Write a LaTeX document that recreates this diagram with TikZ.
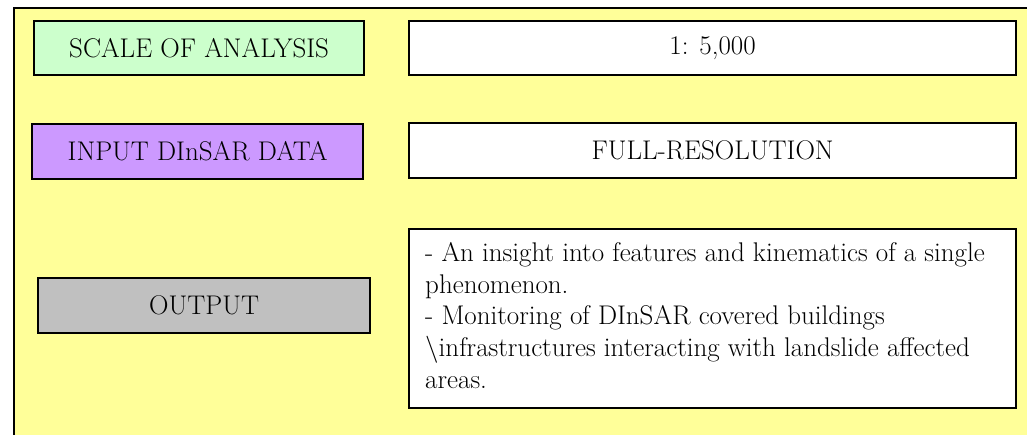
\documentclass[tikz,border=0pt]{standalone}
\usepackage{tikz}
\definecolor{bgyellow}{HTML}{FFFF99}
\definecolor{boxgreen}{HTML}{CCFFCC}
\definecolor{boxpurple}{HTML}{CC99FF}
\definecolor{boxgrey}{HTML}{C0C0C0}
\tikzset{
  card/.style={draw=black, line width=2.2pt, anchor=north west, inner sep=0pt,
    font=\fontsize{27}{31.6}\selectfont},
  txt/.style={card, fill=white}
}
\begin{document}
\begin{tikzpicture}[x=1pt,y=-1pt]
\useasboundingbox (0,0) rectangle (1027,434);
\clip (0,0) rectangle (1027,434);
\fill[white] (0,0) rectangle (1027,434);
\draw[line width=2.2pt, fill=bgyellow] (14,8) rectangle (1040,450);
% left column
\node[card, fill=boxgreen, minimum width=330pt, minimum height=54pt] (scale) at (33,20) {SCALE OF ANALYSIS};
\node[card, fill=boxpurple, minimum width=331pt, minimum height=55pt] (input) at (31,123) {INPUT DInSAR DATA};
\node[card, fill=boxgrey, minimum width=332pt, minimum height=55pt] (output) at (37,277) {OUTPUT};
% right column
\node[txt, minimum width=607pt, minimum height=54pt] (scaleval) at (408,20) {1: 5,000};
\node[txt, minimum width=607pt, minimum height=55pt] (inputval) at (408,122) {FULL-RESOLUTION};
\node[txt, minimum width=607pt, minimum height=179pt] (outputval) at (408,228) {};
\node[anchor=base west, inner sep=0pt, align=left, font=\fontsize{27}{31.6}\selectfont] (outtext) at (425,388)
{- An insight into features and kinematics of a single\\
phenomenon.\\
- Monitoring of DInSAR covered buildings\\
\textbackslash infrastructures interacting with landslide affected\\
areas.};
\end{tikzpicture}
\end{document}
